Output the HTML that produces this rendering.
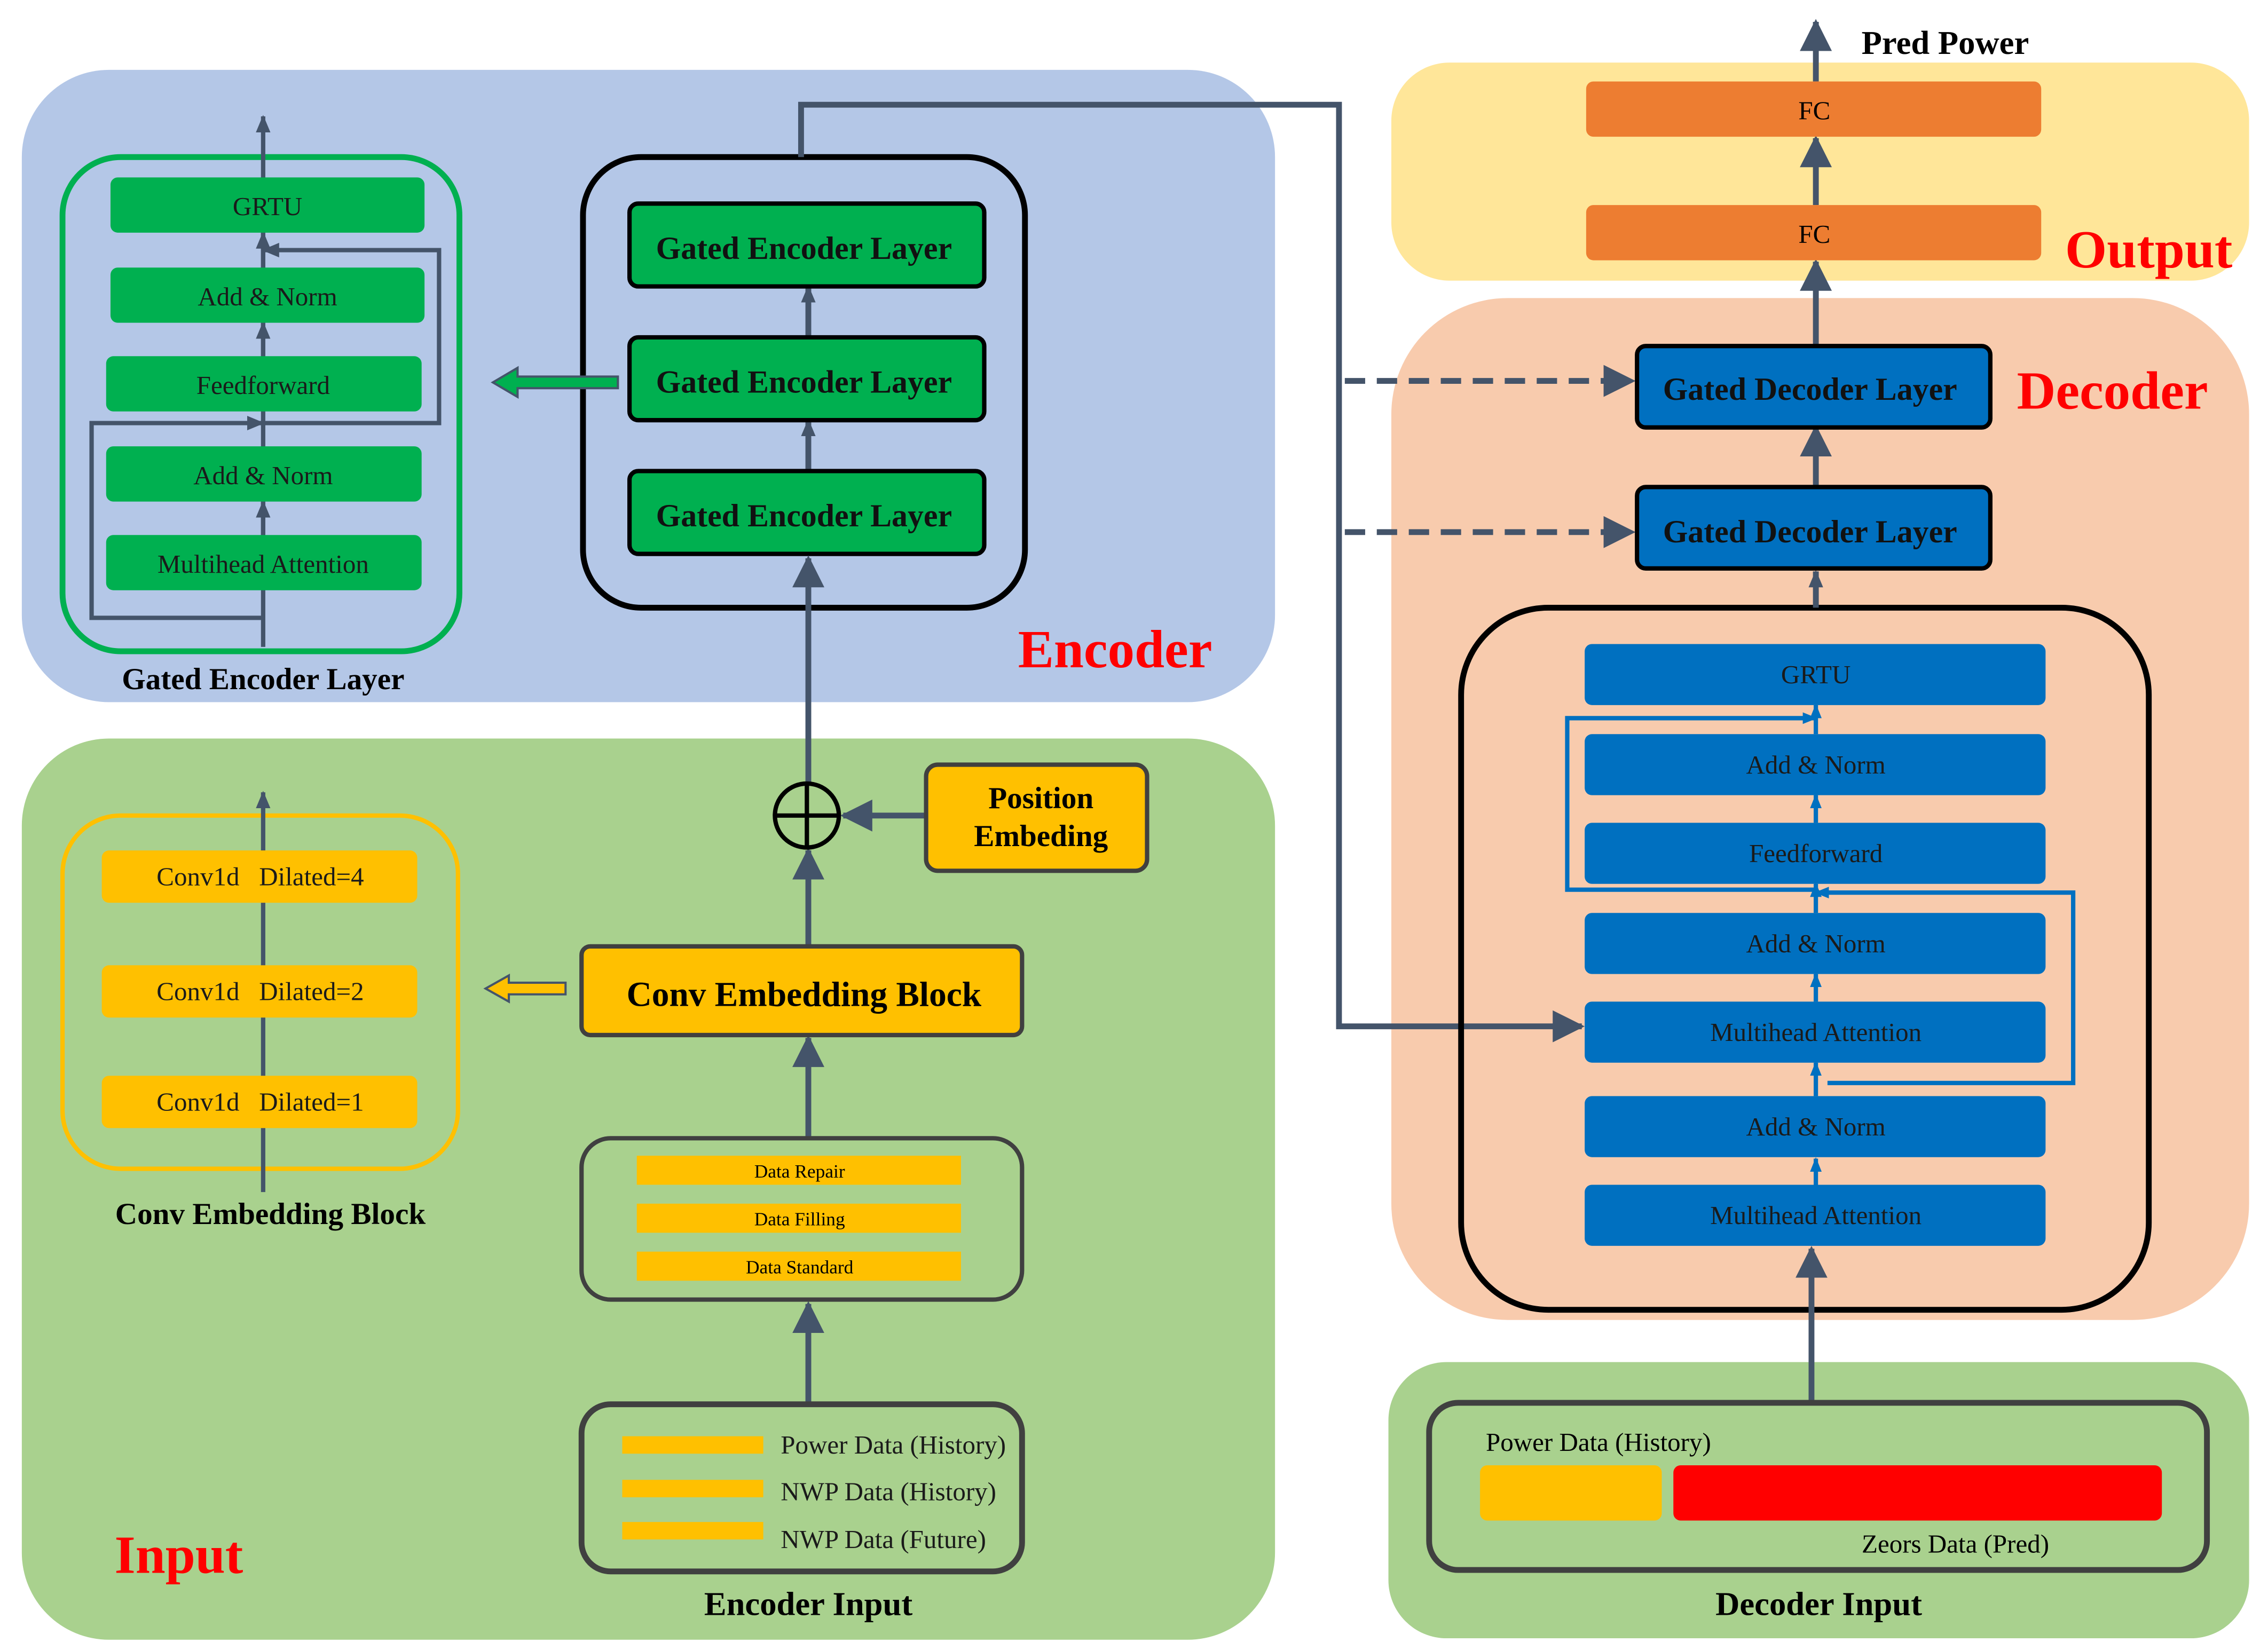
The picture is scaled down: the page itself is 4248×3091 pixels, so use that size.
<!DOCTYPE html>
<html><head><meta charset="utf-8"><style>html,body{margin:0;padding:0;background:#fff}svg{display:block}</style></head>
<body>
<svg width="4248" height="3091" viewBox="0 0 1560 1135" xmlns="http://www.w3.org/2000/svg" font-family="Liberation Serif, serif">
<defs>
<marker id="a" markerUnits="userSpaceOnUse" markerWidth="22" markerHeight="22" refX="20" refY="11" orient="auto"><path d="M0,0 L22,11 L0,22 Z" fill="#44546a"/></marker>
<marker id="s" markerUnits="userSpaceOnUse" markerWidth="12" markerHeight="12" refX="11" refY="6" orient="auto"><path d="M0,1 L12,6 L0,11 Z" fill="#44546a"/></marker>
<marker id="b" markerUnits="userSpaceOnUse" markerWidth="10" markerHeight="10" refX="9" refY="5" orient="auto"><path d="M0,1 L10,5 L0,9 Z" fill="#0070c0"/></marker>
</defs>
<rect x="15" y="48" width="862" height="435" rx="60" fill="#b4c7e7"/>
<rect x="15" y="508" width="862" height="620" rx="60" fill="#a9d18e"/>
<rect x="957" y="43" width="590" height="150" rx="40" fill="#ffe699"/>
<rect x="957" y="205" width="590" height="703" rx="80" fill="#f8cbad"/>
<rect x="955" y="937" width="592" height="190" rx="40" fill="#a9d18e"/>

<rect x="43" y="108" width="273" height="340" rx="40" fill="none" stroke="#00b050" stroke-width="4"/>
<g stroke="#44546a" stroke-width="3" fill="none">
<line x1="181" y1="445" x2="181" y2="80" marker-end="url(#s)"/>
<polyline points="181,425 63,425 63,291 181,291" marker-end="url(#s)"/>
<polyline points="181,291 302,291 302,172 181,172" marker-end="url(#s)"/>
<line x1="181" y1="368" x2="181" y2="345" marker-end="url(#s)"/>
<line x1="181" y1="245" x2="181" y2="222" marker-end="url(#s)"/>
<line x1="181" y1="184" x2="181" y2="160" marker-end="url(#s)"/>
</g>
<g fill="#00b050">
<rect x="76" y="122" width="216" height="38" rx="5"/>
<rect x="76" y="184" width="216" height="38" rx="5"/>
<rect x="73" y="245" width="217" height="38" rx="5"/>
<rect x="73" y="307" width="217" height="38" rx="5"/>
<rect x="73" y="368" width="217" height="38" rx="5"/>
</g>
<g font-size="18" text-anchor="middle" fill="#1a1a1a">
<text x="184" y="148">GRTU</text>
<text x="184" y="210">Add &amp; Norm</text>
<text x="181" y="271">Feedforward</text>
<text x="181" y="333">Add &amp; Norm</text>
<text x="181" y="394">Multihead Attention</text>
</g>
<text x="181" y="474" font-size="21" font-weight="bold" text-anchor="middle">Gated Encoder Layer</text>

<rect x="401" y="108" width="304" height="310" rx="40" fill="none" stroke="#000" stroke-width="4"/>
<g stroke="#44546a" stroke-width="4" fill="none">
<line x1="556" y1="232" x2="556" y2="197" marker-end="url(#s)"/>
<line x1="556" y1="324" x2="556" y2="289" marker-end="url(#s)"/>
</g>
<g fill="#00b050" stroke="#000" stroke-width="3">
<rect x="433" y="140" width="244" height="57" rx="6"/>
<rect x="433" y="232" width="244" height="57" rx="6"/>
<rect x="433" y="324" width="244" height="57" rx="6"/>
</g>
<g font-size="22" font-weight="bold" text-anchor="middle" fill="#111">
<text x="553" y="178">Gated Encoder Layer</text>
<text x="553" y="270">Gated Encoder Layer</text>
<text x="553" y="362">Gated Encoder Layer</text>
</g>
<path d="M425,259 L356,259 L356,253 L339,263 L356,273 L356,267 L425,267 Z" fill="#00b050" stroke="#44546a" stroke-width="1.5"/>
<text x="767" y="459" font-size="37" font-weight="bold" fill="#ff0000" text-anchor="middle">Encoder</text>

<g stroke="#44546a" stroke-width="4" fill="none">
<polyline points="551,108 551,72 921,72 921,706 1088,706" marker-end="url(#a)"/>
<line x1="925" y1="262" x2="1123" y2="262" stroke-dasharray="14,8" marker-end="url(#a)"/>
<line x1="925" y1="366" x2="1123" y2="366" stroke-dasharray="14,8" marker-end="url(#a)"/>
</g>

<rect x="43" y="561" width="272" height="243" rx="40" fill="none" stroke="#ffc000" stroke-width="3"/>
<line x1="181" y1="820" x2="181" y2="545" stroke="#44546a" stroke-width="3" marker-end="url(#s)"/>
<g fill="#ffc000">
<rect x="70" y="585" width="217" height="36" rx="5"/>
<rect x="70" y="664" width="217" height="36" rx="5"/>
<rect x="70" y="740" width="217" height="36" rx="5"/>
</g>
<g font-size="18" text-anchor="middle" fill="#1a1a1a" white-space="pre" style="white-space:pre">
<text x="179" y="609" xml:space="preserve">Conv1d   Dilated=4</text>
<text x="179" y="688" xml:space="preserve">Conv1d   Dilated=2</text>
<text x="179" y="764" xml:space="preserve">Conv1d   Dilated=1</text>
</g>
<text x="186" y="842" font-size="21" font-weight="bold" text-anchor="middle">Conv Embedding Block</text>
<path d="M389,676 L350,676 L350,671 L334,680 L350,689 L350,684 L389,684 Z" fill="#ffc000" stroke="#44546a" stroke-width="1.5"/>

<g stroke="#44546a" stroke-width="4" fill="none">
<line x1="556" y1="966" x2="556" y2="897" marker-end="url(#a)"/>
<line x1="556" y1="783" x2="556" y2="714" marker-end="url(#a)"/>
<line x1="556" y1="651" x2="556" y2="585" marker-end="url(#a)"/>
<line x1="556" y1="539" x2="556" y2="384" marker-end="url(#a)"/>
<line x1="637" y1="561" x2="580" y2="561" marker-end="url(#a)"/>
</g>
<circle cx="555" cy="561" r="22" fill="none" stroke="#000" stroke-width="3"/>
<line x1="533" y1="561" x2="577" y2="561" stroke="#000" stroke-width="3"/>
<line x1="555" y1="539" x2="555" y2="583" stroke="#000" stroke-width="3"/>
<rect x="637" y="526" width="152" height="73" rx="8" fill="#ffc000" stroke="#404040" stroke-width="3"/>
<text x="716" y="556" font-size="21" font-weight="bold" text-anchor="middle">Position</text>
<text x="716" y="582" font-size="21" font-weight="bold" text-anchor="middle">Embeding</text>
<rect x="400" y="651" width="303" height="61" rx="6" fill="#ffc000" stroke="#404040" stroke-width="3"/>
<text x="553" y="692" font-size="24" font-weight="bold" text-anchor="middle">Conv Embedding Block</text>
<rect x="400" y="783" width="303" height="111" rx="20" fill="none" stroke="#404040" stroke-width="3"/>
<g fill="#ffc000">
<rect x="438" y="795" width="223" height="20"/>
<rect x="438" y="828" width="223" height="20"/>
<rect x="438" y="861" width="223" height="20"/>
</g>
<g font-size="13" text-anchor="middle">
<text x="550" y="810">Data Repair</text>
<text x="550" y="843">Data Filling</text>
<text x="550" y="876">Data Standard</text>
</g>
<rect x="400" y="966" width="303" height="115" rx="20" fill="none" stroke="#404040" stroke-width="4"/>
<g fill="#ffc000">
<rect x="428" y="988" width="97" height="12"/>
<rect x="428" y="1018" width="97" height="12"/>
<rect x="428" y="1047" width="97" height="12"/>
</g>
<g font-size="18" fill="#1a1a1a">
<text x="537" y="1000">Power Data (History)</text>
<text x="537" y="1032">NWP Data (History)</text>
<text x="537" y="1065">NWP Data (Future)</text>
</g>
<text x="556" y="1111" font-size="23" font-weight="bold" text-anchor="middle">Encoder Input</text>
<text x="123" y="1082" font-size="37" font-weight="bold" fill="#ff0000" text-anchor="middle">Input</text>

<rect x="1005" y="418" width="473" height="483" rx="60" fill="none" stroke="#000" stroke-width="4"/>
<g stroke="#0070c0" stroke-width="3" fill="none">
<line x1="1249" y1="815" x2="1249" y2="797" marker-end="url(#b)"/>
<line x1="1249" y1="754" x2="1249" y2="731" marker-end="url(#b)"/>
<line x1="1249" y1="689" x2="1249" y2="670" marker-end="url(#b)"/>
<line x1="1249" y1="628" x2="1249" y2="608" marker-end="url(#b)"/>
<line x1="1249" y1="566" x2="1249" y2="547" marker-end="url(#b)"/>
<line x1="1249" y1="505" x2="1249" y2="485" marker-end="url(#b)"/>
<polyline points="1257,745 1426,745 1426,614 1249,614" marker-end="url(#b)"/>
<polyline points="1249,612 1078,612 1078,494 1249,494" marker-end="url(#b)"/>
</g>
<g fill="#0070c0">
<rect x="1090" y="443" width="317" height="42" rx="5"/>
<rect x="1090" y="505" width="317" height="42" rx="5"/>
<rect x="1090" y="566" width="317" height="42" rx="5"/>
<rect x="1090" y="628" width="317" height="42" rx="5"/>
<rect x="1090" y="689" width="317" height="42" rx="5"/>
<rect x="1090" y="754" width="317" height="42" rx="5"/>
<rect x="1090" y="815" width="317" height="42" rx="5"/>
</g>
<g font-size="18" text-anchor="middle" fill="#1a1a1a">
<text x="1249" y="470">GRTU</text>
<text x="1249" y="532">Add &amp; Norm</text>
<text x="1249" y="593">Feedforward</text>
<text x="1249" y="655">Add &amp; Norm</text>
<text x="1249" y="716">Multihead Attention</text>
<text x="1249" y="781">Add &amp; Norm</text>
<text x="1249" y="842">Multihead Attention</text>
</g>
<g stroke="#44546a" stroke-width="4" fill="none">
<line x1="1249" y1="418" x2="1249" y2="393" marker-end="url(#s)"/>
<line x1="1249" y1="335" x2="1249" y2="294" marker-end="url(#a)"/>
<line x1="1249" y1="238" x2="1249" y2="180" marker-end="url(#a)"/>
<line x1="1249" y1="141" x2="1249" y2="95" marker-end="url(#a)"/>
<line x1="1249" y1="56" x2="1249" y2="15" marker-end="url(#a)"/>
<line x1="1246" y1="965" x2="1246" y2="859" marker-end="url(#a)"/>
</g>
<g fill="#0070c0" stroke="#000" stroke-width="3">
<rect x="1126" y="238" width="243" height="56" rx="6"/>
<rect x="1126" y="335" width="243" height="56" rx="6"/>
</g>
<g font-size="22" font-weight="bold" text-anchor="middle" fill="#111">
<text x="1245" y="275">Gated Decoder Layer</text>
<text x="1245" y="373">Gated Decoder Layer</text>
</g>
<g fill="#ed7d31">
<rect x="1091" y="56" width="313" height="38" rx="5"/>
<rect x="1091" y="141" width="313" height="38" rx="5"/>
</g>
<text x="1248" y="82" font-size="18" text-anchor="middle">FC</text>
<text x="1248" y="167" font-size="18" text-anchor="middle">FC</text>
<text x="1338" y="37" font-size="23" font-weight="bold" text-anchor="middle">Pred Power</text>
<text x="1478" y="184" font-size="37" font-weight="bold" fill="#ff0000" text-anchor="middle">Output</text>
<text x="1453" y="281" font-size="37" font-weight="bold" fill="#ff0000" text-anchor="middle">Decoder</text>

<rect x="983" y="965" width="535" height="115" rx="20" fill="none" stroke="#404040" stroke-width="4"/>
<text x="1022" y="998" font-size="18">Power Data (History)</text>
<rect x="1018" y="1008" width="125" height="38" rx="5" fill="#ffc000"/>
<rect x="1151" y="1008" width="336" height="38" rx="5" fill="#ff0000"/>
<text x="1345" y="1068" font-size="18" text-anchor="middle">Zeors Data (Pred)</text>
<text x="1251" y="1111" font-size="23" font-weight="bold" text-anchor="middle">Decoder Input</text>
</svg>
</body></html>
